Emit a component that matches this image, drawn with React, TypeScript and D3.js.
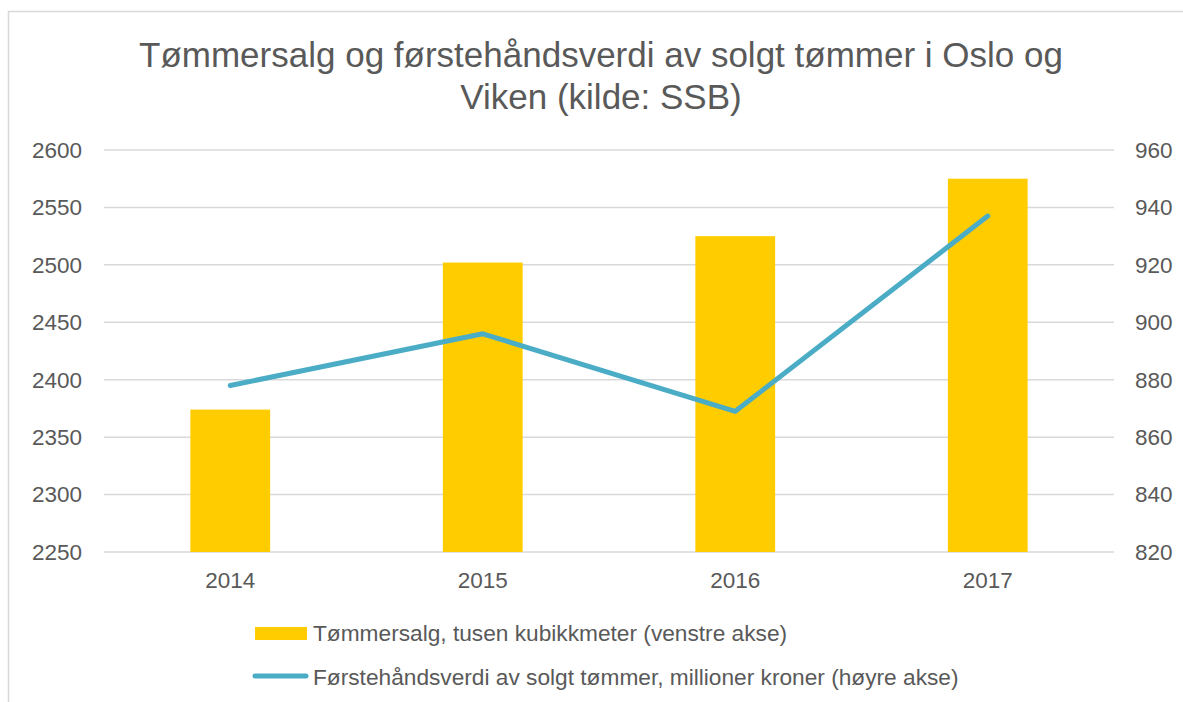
import React from "react";
import * as d3 from "d3";

const years = ["2014", "2015", "2016", "2017"];
const salesVolume = [2374, 2502, 2525, 2575];
const firstHandValue = [878, 896, 869, 937];
const leftTicks = [2250, 2300, 2350, 2400, 2450, 2500, 2550, 2600];
const rightTicks = [820, 840, 860, 880, 900, 920, 940, 960];
const titleLines = ["Tømmersalg og førstehåndsverdi av solgt tømmer i Oslo og", "Viken (kilde: SSB)"];
const legendLabels = [
  "Tømmersalg, tusen kubikkmeter (venstre akse)",
  "Førstehåndsverdi av solgt tømmer, millioner kroner (høyre akse)",
];

const W = 1183;
const H = 702;
const plotLeft = 104;
const plotRight = 1114;
const plotTop = 150;
const plotBottom = 552;
const textColor = "#595959";
const barColor = "#FFCC00";
const lineColor = "#4BACC6";
const font = "'Liberation Sans', Arial, sans-serif";

export default function App() {
  const x = d3.scaleBand<string>().domain(years).range([plotLeft, plotRight]).paddingInner(0.684).paddingOuter(0.342);
  const yL = d3.scaleLinear().domain([2250, 2600]).range([plotBottom, plotTop]);
  const yR = d3.scaleLinear().domain([820, 960]).range([plotBottom, plotTop]);
  const line = d3
    .line<number>()
    .x((_, i) => (x(years[i]) as number) + x.bandwidth() / 2)
    .y((d) => yR(d));

  return (
    <svg
      width={W}
      height={H}
      style={{ position: "absolute", left: 0, top: 0, background: "#fff", fontFamily: font }}
    >
      <rect x={8.5} y={11.5} width={W} height={H} fill="#fff" stroke="#d9d9d9" strokeWidth={1.5} />
      {titleLines.map((t, i) => (
        <text key={i} x={601} y={67 + i * 42} textAnchor="middle" fontSize={35} fill={textColor}>
          {t}
        </text>
      ))}
      {leftTicks.map((t) => (
        <line key={"g" + t} x1={plotLeft} x2={plotRight} y1={yL(t)} y2={yL(t)} stroke="#d9d9d9" strokeWidth={1.5} />
      ))}
      {leftTicks.map((t) => (
        <text key={"l" + t} x={82} y={yL(t)} dy="0.35em" textAnchor="end" fontSize={22.5} fill={textColor}>
          {t}
        </text>
      ))}
      {rightTicks.map((t) => (
        <text key={"r" + t} x={1135} y={yR(t)} dy="0.35em" textAnchor="start" fontSize={22.5} fill={textColor}>
          {t}
        </text>
      ))}
      {years.map((yr, i) => (
        <rect
          key={"b" + yr}
          x={x(yr)}
          y={yL(salesVolume[i])}
          width={x.bandwidth()}
          height={plotBottom - yL(salesVolume[i])}
          fill={barColor}
        />
      ))}
      {years.map((yr) => (
        <text
          key={"x" + yr}
          x={(x(yr) as number) + x.bandwidth() / 2}
          y={588}
          textAnchor="middle"
          fontSize={22.5}
          fill={textColor}
        >
          {yr}
        </text>
      ))}
      <path
        d={line(firstHandValue) || ""}
        fill="none"
        stroke={lineColor}
        strokeWidth={5}
        strokeLinecap="round"
        strokeLinejoin="round"
      />
      <rect x={255} y={627} width={52} height={13} fill={barColor} />
      <text x={313} y={633} dy="0.35em" fontSize={22.7} fill={textColor}>
        {legendLabels[0]}
      </text>
      <line x1={255} x2={306} y1={676} y2={676} stroke={lineColor} strokeWidth={5} strokeLinecap="round" />
      <text x={313} y={677} dy="0.35em" fontSize={22.7} fill={textColor}>
        {legendLabels[1]}
      </text>
    </svg>
  );
}
